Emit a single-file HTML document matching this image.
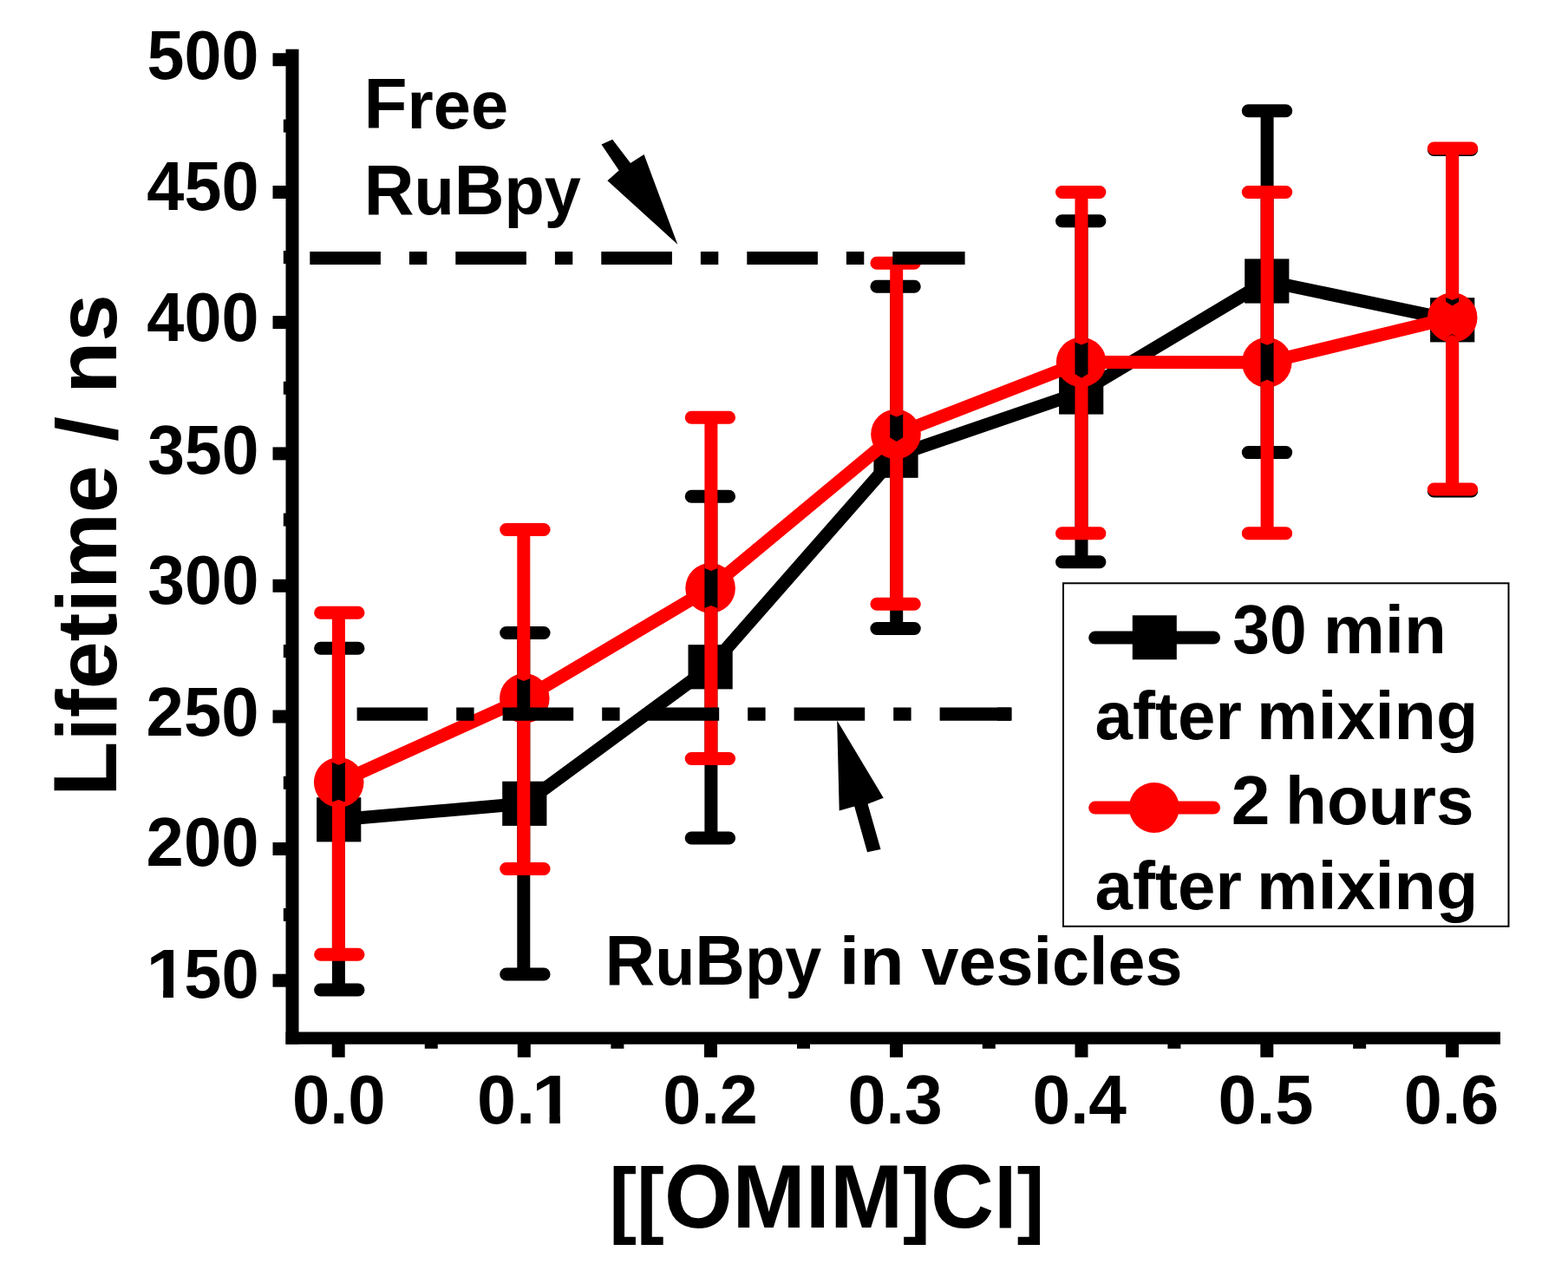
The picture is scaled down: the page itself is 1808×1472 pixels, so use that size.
<!DOCTYPE html>
<html lang="en"><head><meta charset="utf-8"><title>Lifetime vs [[OMIM]Cl]</title>
<style>
html,body{margin:0;padding:0;background:#fff;}
body{width:1808px;height:1472px;overflow:hidden;}
svg{display:block;}
text{font-family:"Liberation Sans",sans-serif;font-weight:bold;fill:#000;font-kerning:none;font-variant-ligatures:none;}
</style></head><body>
<svg width="1808" height="1472" viewBox="0 0 1808 1472" role="img" aria-label="Lifetime / ns versus [[OMIM]Cl]">
<defs><clipPath id="c1"><rect x="-2" y="-70" width="60" height="60.18"/><rect x="18.47" y="-10.62" width="11.12" height="11.62"/></clipPath></defs>
<rect x="0" y="0" width="1808" height="1472" fill="#fff"/>
<g fill="#000">
<rect x="329.5" y="56.7" width="15" height="1147.05"/>
<rect x="329.5" y="1189.5" width="1400.5" height="14.25"/>
<rect x="314.5" y="1122.70" width="16" height="15"/>
<rect x="314.5" y="971.00" width="16" height="15"/>
<rect x="314.5" y="818.50" width="16" height="15"/>
<rect x="314.5" y="667.75" width="16" height="15"/>
<rect x="314.5" y="515.40" width="16" height="15"/>
<rect x="314.5" y="364.10" width="16" height="15"/>
<rect x="314.5" y="214.00" width="16" height="15"/>
<rect x="314.5" y="61.25" width="16" height="15"/>
<rect x="326.8" y="1046.85" width="4" height="15"/>
<rect x="326.8" y="894.75" width="4" height="15"/>
<rect x="326.8" y="743.12" width="4" height="15"/>
<rect x="326.8" y="591.58" width="4" height="15"/>
<rect x="326.8" y="439.75" width="4" height="15"/>
<rect x="326.8" y="289.05" width="4" height="15"/>
<rect x="326.8" y="137.62" width="4" height="15"/>
<rect x="382.70" y="1203" width="15" height="15.75"/>
<rect x="596.80" y="1203" width="15" height="15.75"/>
<rect x="812.00" y="1203" width="15" height="15.75"/>
<rect x="1026.00" y="1203" width="15" height="15.75"/>
<rect x="1239.50" y="1203" width="15" height="15.75"/>
<rect x="1453.30" y="1203" width="15" height="15.75"/>
<rect x="1667.00" y="1203" width="15" height="15.75"/>
<rect x="489.75" y="1203" width="15" height="5.75"/>
<rect x="704.40" y="1203" width="15" height="5.75"/>
<rect x="919.00" y="1203" width="15" height="5.75"/>
<rect x="1132.75" y="1203" width="15" height="5.75"/>
<rect x="1346.40" y="1203" width="15" height="5.75"/>
<rect x="1560.15" y="1203" width="15" height="5.75"/>
</g>
<polyline points="390.7,944.8 604.8,926.3 819.1,768.8 1033.0,525.2 1246.7,452.0 1460.8,324.0 1674.7,368.8" fill="none" stroke="#000" stroke-width="15.0" stroke-linejoin="round"/>
<rect x="365.10" y="919.20" width="51.2" height="51.2" fill="#000"/>
<rect x="579.20" y="900.70" width="51.2" height="51.2" fill="#000"/>
<rect x="793.50" y="743.20" width="51.2" height="51.2" fill="#000"/>
<rect x="1007.40" y="499.60" width="51.2" height="51.2" fill="#000"/>
<rect x="1221.10" y="426.40" width="51.2" height="51.2" fill="#000"/>
<rect x="1435.20" y="298.40" width="51.2" height="51.2" fill="#000"/>
<rect x="1649.10" y="343.20" width="51.2" height="51.2" fill="#000"/>
<polyline points="390.7,901.8 604.8,805.0 819.1,677.9 1033.0,500.5 1246.7,417.5 1460.8,417.8 1674.7,366.0" fill="none" stroke="#f00" stroke-width="15.0" stroke-linejoin="round"/>
<circle cx="390.70" cy="901.80" r="28.8" fill="#f00"/>
<circle cx="604.80" cy="805.00" r="28.8" fill="#f00"/>
<circle cx="819.10" cy="677.90" r="28.8" fill="#f00"/>
<circle cx="1033.00" cy="500.50" r="28.8" fill="#f00"/>
<circle cx="1246.70" cy="417.50" r="28.8" fill="#f00"/>
<circle cx="1460.80" cy="417.80" r="28.8" fill="#f00"/>
<circle cx="1674.70" cy="366.00" r="28.8" fill="#f00"/>
<g stroke="#000" stroke-width="15.0" stroke-linecap="round" fill="none">
<path d="M369.60 747.20H413.00M369.60 1141.00H413.00"/>
<path d="M583.70 729.50H627.10M583.70 1123.00H627.10"/>
<path d="M797.20 572.20H840.60M797.20 966.00H840.60"/>
<path d="M1010.90 330.20H1054.30M1010.90 724.50H1054.30"/>
<path d="M1224.50 254.80H1267.90M1224.50 647.80H1267.90"/>
<path d="M1439.30 127.80H1482.70M1439.30 521.60H1482.70"/>
<path d="M1653.30 172.50H1696.70M1653.30 566.00H1696.70"/>
</g>
<g fill="#000">
<path d="M382.90 747.20V923.80L390.40 928.60L397.90 923.80V747.20Z"/>
<path d="M382.90 1141.00V965.80L390.40 961.00L397.90 965.80V1141.00Z"/>
<path d="M596.30 729.50V905.30L603.80 910.10L611.30 905.30V729.50Z"/>
<path d="M596.30 1123.00V947.30L603.80 942.50L611.30 947.30V1123.00Z"/>
<path d="M812.40 572.20V747.80L819.90 752.60L827.40 747.80V572.20Z"/>
<path d="M812.40 966.00V789.80L819.90 785.00L827.40 789.80V966.00Z"/>
<path d="M1026.20 330.20V504.20L1033.70 509.00L1041.20 504.20V330.20Z"/>
<path d="M1026.20 724.50V546.20L1033.70 541.40L1041.20 546.20V724.50Z"/>
<path d="M1239.50 254.80V431.00L1247.00 435.80L1254.50 431.00V254.80Z"/>
<path d="M1239.50 647.80V473.00L1247.00 468.20L1254.50 473.00V647.80Z"/>
<path d="M1453.60 127.80V303.00L1461.10 307.80L1468.60 303.00V127.80Z"/>
<path d="M1453.60 521.60V345.00L1461.10 340.20L1468.60 345.00V521.60Z"/>
<path d="M1667.10 172.50V347.80L1674.60 352.60L1682.10 347.80V172.50Z"/>
<path d="M1667.10 566.00V389.80L1674.60 385.00L1682.10 389.80V566.00Z"/>
</g>
<g stroke="#f00" stroke-width="15.0" stroke-linecap="round" fill="none">
<path d="M369.60 706.30H413.00M369.60 1100.20H413.00"/>
<path d="M583.70 610.50H627.10M583.70 1001.50H627.10"/>
<path d="M797.20 481.20H840.60M797.20 874.50H840.60"/>
<path d="M1010.90 303.20H1054.30M1010.90 696.20H1054.30"/>
<path d="M1224.50 221.50H1267.90M1224.50 614.80H1267.90"/>
<path d="M1439.30 221.50H1482.70M1439.30 614.80H1482.70"/>
<path d="M1653.30 171.00H1696.70M1653.30 564.00H1696.70"/>
</g>
<g fill="#f00">
<path d="M382.90 706.30V878.80L390.40 881.80L397.90 878.80V706.30Z"/>
<path d="M382.90 1100.20V924.80L390.40 921.80L397.90 924.80V1100.20Z"/>
<path d="M596.30 610.50V782.00L603.80 785.00L611.30 782.00V610.50Z"/>
<path d="M596.30 1001.50V828.00L603.80 825.00L611.30 828.00V1001.50Z"/>
<path d="M812.40 481.20V654.90L819.90 657.90L827.40 654.90V481.20Z"/>
<path d="M812.40 874.50V700.90L819.90 697.90L827.40 700.90V874.50Z"/>
<path d="M1026.20 303.20V477.50L1033.70 480.50L1041.20 477.50V303.20Z"/>
<path d="M1026.20 696.20V523.50L1033.70 520.50L1041.20 523.50V696.20Z"/>
<path d="M1239.50 221.50V394.50L1247.00 397.50L1254.50 394.50V221.50Z"/>
<path d="M1239.50 614.80V440.50L1247.00 437.50L1254.50 440.50V614.80Z"/>
<path d="M1453.60 221.50V394.80L1461.10 397.80L1468.60 394.80V221.50Z"/>
<path d="M1453.60 614.80V440.80L1461.10 437.80L1468.60 440.80V614.80Z"/>
<path d="M1667.10 171.00V343.00L1674.60 346.00L1682.10 343.00V171.00Z"/>
<path d="M1667.10 564.00V389.00L1674.60 386.00L1682.10 389.00V564.00Z"/>
</g>
<g stroke="#000" stroke-width="15.2" fill="none" stroke-dasharray="81.6 33 20.4 33">
<path d="M357.3 297.5H1112.5"/>
<path d="M411.6 823.1H1166.5"/>
</g>
<path d="M1100 297.5H1112.6M1150 823.1H1166.6" stroke="#000" stroke-width="15.2" fill="none"/>
<g fill="#000">
<polygon points="693.5,166.6 706.2,160.8 727,187.9 742.6,178.1 781.3,281.8 700.4,208.2 713.7,196.6"/>
<polygon points="965.2,830.6 1018.7,919.7 1000.6,926.8 1015.5,979 1000,982.3 985.2,929.4 967.7,934.5"/>
</g>
<text class="t" font-size="78.40" transform="translate(168.60 998.30) scale(0.9783 1.0000)"><tspan font-size="79.58">200</tspan></text>
<text class="t" font-size="78.40" transform="translate(168.60 848.30) scale(0.9783 1.0000)"><tspan font-size="79.58">250</tspan></text>
<text class="t" font-size="78.40" transform="translate(170.24 696.10) scale(0.9657 1.0000)"><tspan font-size="79.58">300</tspan></text>
<text class="t" font-size="78.40" transform="translate(170.24 545.60) scale(0.9657 1.0000)"><tspan font-size="79.58">350</tspan></text>
<text class="t" font-size="78.40" transform="translate(169.33 393.30) scale(0.9727 1.0000)"><tspan font-size="79.58">400</tspan></text>
<text class="t" font-size="78.40" transform="translate(169.33 242.10) scale(0.9727 1.0000)"><tspan font-size="79.58">450</tspan></text>
<text class="t" font-size="78.40" transform="translate(169.62 90.90) scale(0.9704 1.0000)"><tspan font-size="79.58">500</tspan></text>
<text class="t" font-size="79.58" clip-path="url(#c1)" transform="translate(168.39 1150.40) scale(1.0685 1)">1</text><text class="t" font-size="78.40" transform="translate(212.21 1150.40) scale(0.9770 1.0000)"><tspan font-size="79.58">50</tspan></text>
<text class="t" font-size="78.40" transform="translate(336.92 1295.20) scale(0.9782 1.0000)"><tspan font-size="79.58">0</tspan><tspan font-size="77.22">.</tspan><tspan font-size="79.58">0</tspan></text>
<text class="t" font-size="78.40" transform="translate(550.09 1295.20) scale(1.0184 1.0000)"><tspan font-size="79.58">0</tspan><tspan font-size="77.22">.</tspan></text><text class="t" font-size="79.58" clip-path="url(#c1)" transform="translate(613.06 1295.20) scale(1.1101 1)">1</text>
<text class="t" font-size="78.40" transform="translate(764.26 1295.20) scale(0.9968 1.0000)"><tspan font-size="79.58">0</tspan><tspan font-size="77.22">.</tspan><tspan font-size="79.58">2</tspan></text>
<text class="t" font-size="78.40" transform="translate(977.47 1295.20) scale(0.9948 1.0000)"><tspan font-size="79.58">0</tspan><tspan font-size="77.22">.</tspan><tspan font-size="79.58">3</tspan></text>
<text class="t" font-size="78.40" transform="translate(1190.49 1295.20) scale(0.9869 1.0000)"><tspan font-size="79.58">0</tspan><tspan font-size="77.22">.</tspan><tspan font-size="79.58">4</tspan></text>
<text class="t" font-size="78.40" transform="translate(1404.45 1295.20) scale(1.0019 1.0000)"><tspan font-size="79.58">0</tspan><tspan font-size="77.22">.</tspan><tspan font-size="79.58">5</tspan></text>
<text class="t" font-size="78.40" transform="translate(1618.87 1295.20) scale(0.9957 1.0000)"><tspan font-size="79.58">0</tspan><tspan font-size="77.22">.</tspan><tspan font-size="79.58">6</tspan></text>
<text class="t" font-size="99.80" transform="translate(702.22 1414.60) scale(0.9741 1.0000)"><tspan font-size="98.30">[[</tspan><tspan font-size="103.79">OMIM</tspan><tspan font-size="98.30">]</tspan><tspan font-size="103.79">C</tspan><tspan font-size="98.30">l]</tspan></text>
<text class="t" font-size="99.80" transform="translate(133.70 918.27) rotate(-90) scale(1.0042 1.0000)"><tspan font-size="103.79">L</tspan><tspan font-size="98.30">ifetime</tspan></text> <text class="t" font-size="99.80" transform="translate(133.70 509.02) rotate(-90) scale(1.0633 1.0000)"><tspan font-size="98.30">/</tspan></text> <text class="t" font-size="99.80" transform="translate(133.70 453.68) rotate(-90) scale(0.9999 1.0000)"><tspan font-size="98.30">ns</tspan></text>
<text class="t" font-size="78.40" transform="translate(419.51 147.50) scale(1.0060 1.0000)"><tspan font-size="81.54">F</tspan><tspan font-size="77.22">ree</tspan></text>
<text class="t" font-size="78.40" transform="translate(419.65 246.60) scale(0.9812 1.0000)"><tspan font-size="81.54">R</tspan><tspan font-size="77.22">u</tspan><tspan font-size="81.54">B</tspan><tspan font-size="77.22">py</tspan></text>
<text class="t" font-size="78.40" transform="translate(697.46 1135.40) scale(0.9796 1.0000)"><tspan font-size="81.54">R</tspan><tspan font-size="77.22">u</tspan><tspan font-size="81.54">B</tspan><tspan font-size="77.22">py</tspan></text> <text class="t" font-size="78.40" transform="translate(967.82 1135.40) scale(1.0899 1.0000)"><tspan font-size="77.22">in</tspan></text> <text class="t" font-size="78.40" transform="translate(1062.50 1135.40) scale(1.0016 1.0000)"><tspan font-size="77.22">vesicles</tspan></text>
<rect x="1226" y="672.3" width="513.5" height="395.5" fill="#fff" stroke="#000" stroke-width="2"/>
<path d="M1262.7 735H1399.5" stroke="#000" stroke-width="15" stroke-linecap="round"/>
<rect x="1305.8" y="709.3" width="51" height="51" fill="#000"/>
<path d="M1262.7 931H1399.5" stroke="#f00" stroke-width="15" stroke-linecap="round"/>
<circle cx="1330.8" cy="931" r="29" fill="#f00"/>
<text class="t" font-size="78.40" transform="translate(1421.24 753.40) scale(0.9650 1.0000)"><tspan font-size="79.58">30</tspan></text> <text class="t" font-size="78.40" transform="translate(1525.73 753.40) scale(1.0360 1.0000)"><tspan font-size="77.22">min</tspan></text>
<text class="t" font-size="78.40" transform="translate(1262.61 852.30) scale(1.0119 1.0000)"><tspan font-size="77.22">after</tspan></text> <text class="t" font-size="78.40" transform="translate(1449.08 852.30) scale(1.0255 1.0000)"><tspan font-size="77.22">mixing</tspan></text>
<text class="t" font-size="78.40" transform="translate(1419.71 949.50) scale(1.0101 1.0000)"><tspan font-size="79.58">2</tspan></text> <text class="t" font-size="78.40" transform="translate(1482.03 949.50) scale(1.0148 1.0000)"><tspan font-size="77.22">hours</tspan></text>
<text class="t" font-size="78.40" transform="translate(1262.61 1047.90) scale(1.0119 1.0000)"><tspan font-size="77.22">after</tspan></text> <text class="t" font-size="78.40" transform="translate(1449.08 1047.90) scale(1.0255 1.0000)"><tspan font-size="77.22">mixing</tspan></text>
</svg>
</body></html>
